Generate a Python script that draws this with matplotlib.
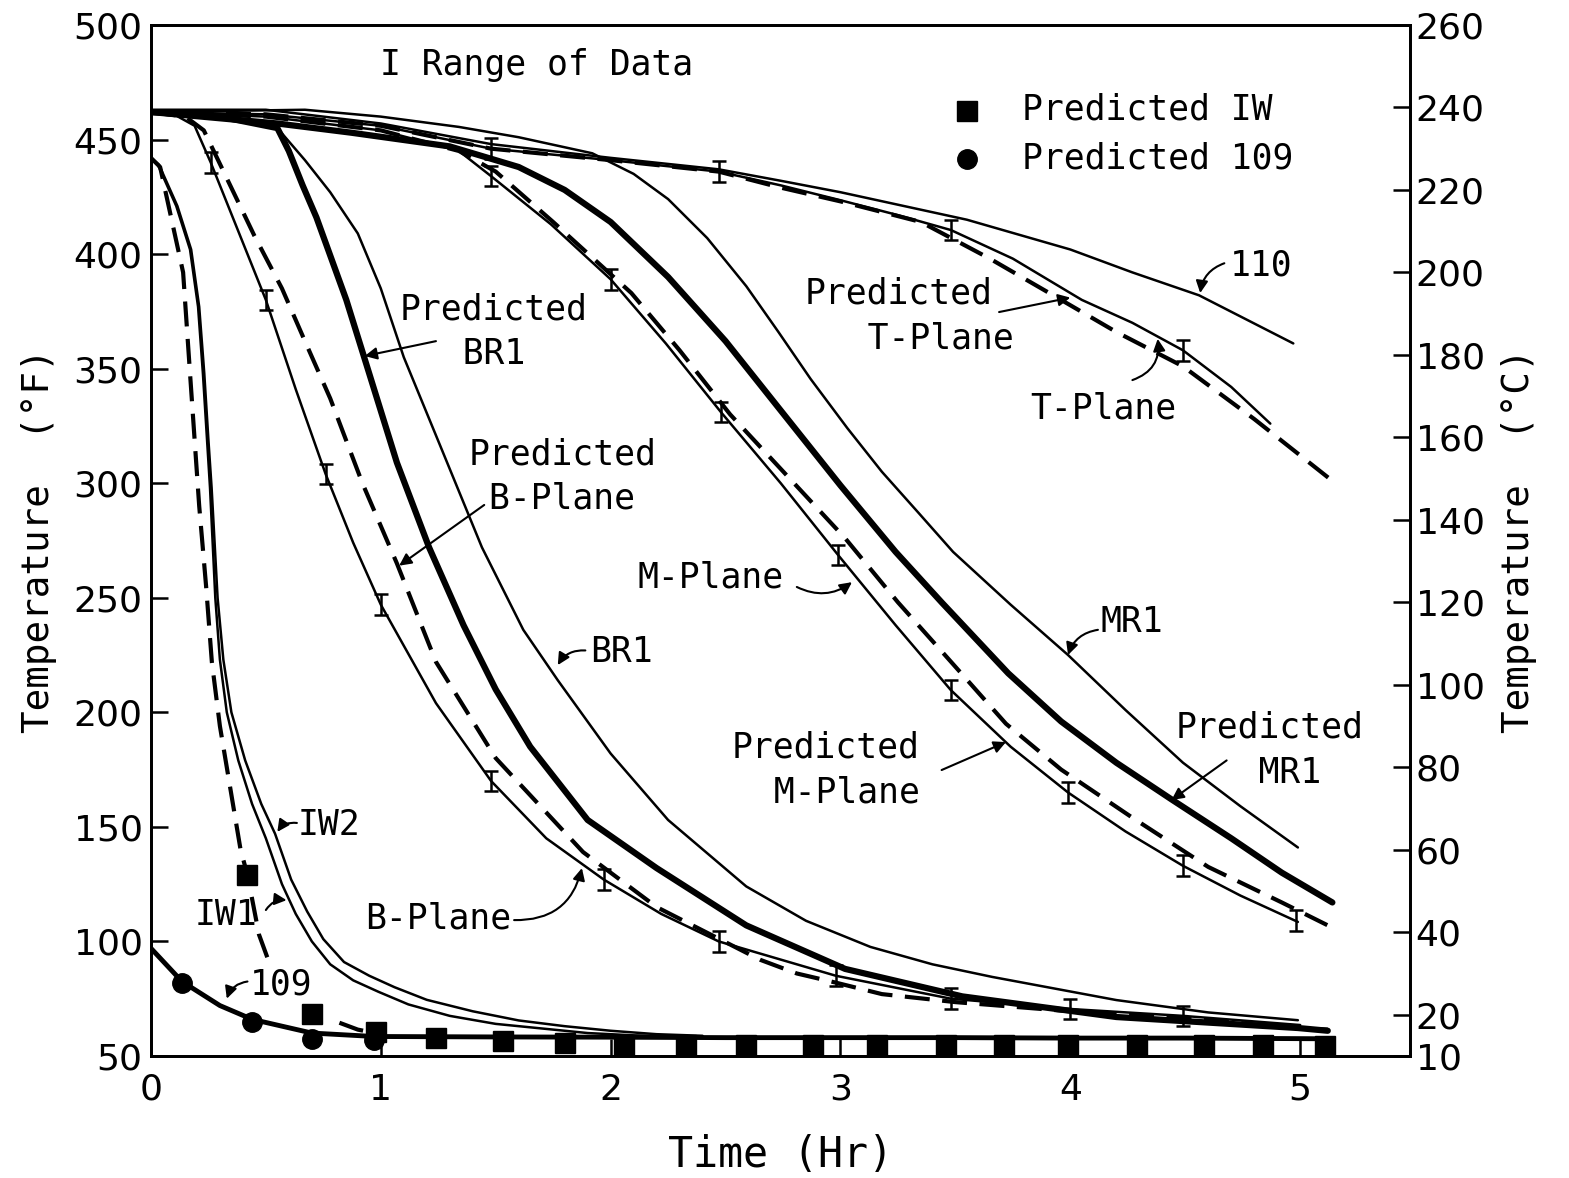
import numpy as np
import matplotlib
matplotlib.use("Agg")
import matplotlib.pyplot as plt

plt.rcParams['font.family'] = ['DejaVu Sans']
LETTER = 'DejaVu Sans Mono'

# ---------------- data (time in hr, temperature in deg F) ----------------
t_109 = [0, 0.135, 0.30, 0.44, 0.70, 0.97, 1.5, 2.0, 2.5, 3.0, 3.5, 4.0, 4.5, 5.12]
F_109 = [97, 82.5, 72, 66, 60, 58.5, 58.3, 58.2, 58, 58, 58, 57.8, 57.8, 57.5]

t_pred109 = [0.135, 0.44, 0.70, 0.97]
F_pred109 = [82, 65, 57.5, 57]

t_predIW_pts = [0.42, 0.70, 0.98, 1.24, 1.53, 1.80, 2.06, 2.33, 2.59, 2.88, 3.16,
                3.46, 3.71, 3.99, 4.29, 4.58, 4.84, 5.11]
F_predIW_pts = [129, 68.5, 60.5, 58, 56.5, 55.5, 55, 54.8, 54.8, 54.8, 54.8,
                54.8, 54.8, 54.8, 54.8, 54.8, 54.8, 54.5]

t_predIW = [0, 0.04, 0.14, 0.17, 0.21, 0.24, 0.265, 0.30, 0.36, 0.39, 0.42, 0.47, 0.51,
            np.nan, 0.82, 0.90, 1.0]
F_predIW = [442, 438, 392, 348, 290, 255, 222, 194, 158, 140, 129, 103, 92,
            np.nan, 64.5, 61.5, 59.5]

t_IW1 = [0, 0.03, 0.11, 0.17, 0.205, 0.226, 0.244, 0.257, 0.28, 0.30, 0.33, 0.38, 0.44,
         0.50, 0.57, 0.63, 0.70, 0.78, 0.88, 0.99, 1.12, 1.3, 1.5, 1.7, 1.9, 2.1, 2.3]
F_IW1 = [442, 439, 421, 402, 377, 348, 319, 298, 250, 223, 200, 179, 160,
         145, 125, 112, 100, 90, 83, 78, 72.5, 67.5, 64, 62, 60, 59, 58.5]

t_IW2 = [0, 0.035, 0.115, 0.175, 0.21, 0.232, 0.25, 0.264, 0.29, 0.315, 0.35, 0.41, 0.48,
         0.54, 0.61, 0.68, 0.75, 0.84, 0.95, 1.06, 1.2, 1.4, 1.6, 1.8, 2.0, 2.2, 2.4]
F_IW2 = [442, 439, 421, 402, 377, 348, 319, 298, 250, 223, 200, 179, 160,
         147, 127, 113, 101, 91, 85, 80, 74.5, 69.5, 65.5, 63, 61, 59.5, 58.8]

t_B = [0, 0.1, 0.19, 0.26, 0.38, 0.50, 0.63, 0.76, 0.88, 1.0, 1.24, 1.48, 1.72, 1.97,
       2.22, 2.47, 2.98, 3.48, 4.0, 4.49, 5.0]
F_B = [462, 461, 456, 440, 410, 380, 341, 304, 274, 247, 204, 170, 145, 127,
       112, 100, 85, 75, 70.5, 67.5, 63.5]
t_B_err = [0.26, 0.50, 0.76, 1.0, 1.48, 1.97, 2.47, 2.98, 3.48, 4.0, 4.49]
F_B_err = [440, 380, 304, 247, 170, 127, 100, 85, 75, 70.5, 67.5]

t_predB = [0, 0.15, 0.23, 0.34, 0.45, 0.57, 0.67, 0.78, 0.92, 1.07, 1.24, 1.5, 1.88, 2.2,
           2.65, 2.81, 2.98, 3.18, 3.5, 4.0, 4.5, 5.0, 5.12]
F_predB = [462, 460, 454, 431, 408, 385, 362, 337, 300, 265, 222, 180, 139, 115,
           92, 86, 82, 77, 73.5, 69.5, 66.5, 62, 61.5]

t_predBR1 = [0, 0.3, 0.55, 0.60, 0.66, 0.72, 0.85, 0.94, 1.07, 1.21, 1.36, 1.5, 1.65, 1.9,
             2.2, 2.59, 3.02, 3.53, 4.2, 4.99, 5.12]
F_predBR1 = [462, 460, 455, 445, 430, 416, 380, 351, 309, 272, 238, 210, 185, 153,
             132, 107, 88, 76, 67, 62.2, 61]

t_BR1 = [0, 0.3, 0.55, 0.67, 0.78, 0.9, 1.0, 1.1, 1.26, 1.44, 1.62, 1.77, 2.0, 2.25, 2.59,
         2.85, 3.13, 3.4, 3.66, 4.2, 4.6, 4.99]
F_BR1 = [462, 461, 455, 441, 427, 409, 385, 355, 316, 272, 236, 214, 182, 153, 124,
         109, 97.6, 90, 84.5, 74.4, 69, 65.6]

t_M = [0, 0.5, 1.0, 1.34, 1.48, 1.74, 2.0, 2.24, 2.48, 2.74, 2.99, 3.24, 3.48, 3.74, 3.99,
       4.24, 4.49, 4.74, 4.99]
F_M = [462, 460, 454, 445, 434, 413, 389, 361, 331, 300, 268.6, 238, 209.7, 185, 165,
       148, 133, 120, 108.5]
t_M_err = [1.48, 2.0, 2.48, 2.99, 3.48, 3.99, 4.49, 4.98]
F_M_err = [434, 389, 331, 268.6, 209.7, 165, 133, 109]

t_predM = [0, 0.5, 1.0, 1.34, 1.5, 1.75, 2.09, 2.3, 2.52, 2.77, 3.02, 3.25, 3.49, 3.72,
           3.96, 4.27, 4.6, 4.92, 5.14]
F_predM = [462, 460, 454, 445, 436, 414, 383, 358, 330, 303, 276, 248, 221, 195,
           175, 154, 132.5, 117, 106]

t_predMR1 = [0, 0.55, 0.87, 1.3, 1.6, 1.8, 2.0, 2.25, 2.5, 2.73, 3.0, 3.24, 3.44, 3.73,
             3.96, 4.2, 4.44, 4.7, 4.92, 5.14]
F_predMR1 = [462, 457, 453, 447, 438, 428, 414, 390, 362, 333, 299, 270, 248, 217,
             196, 178, 162, 145, 130, 117]

t_MR1 = [0, 0.67, 1.0, 1.34, 1.6, 1.92, 2.1, 2.25, 2.42, 2.59, 2.73, 2.87, 3.03, 3.18,
         3.34, 3.49, 3.74, 3.99, 4.24, 4.49, 4.74, 4.99]
F_MR1 = [462, 463, 460, 455.5, 451, 444, 435, 424, 407, 386, 366, 345.5, 324, 305,
         287, 270, 247, 225, 201, 178, 159, 141]

t_T = [0, 0.5, 1.0, 1.48, 2.0, 2.47, 2.74, 3.0, 3.25, 3.48, 3.75, 4.05, 4.27, 4.49, 4.7, 4.87]
F_T = [462, 461, 456, 446, 441, 436, 430, 423.5, 417, 410.5, 398, 380, 370, 358, 342, 326]
t_T_err = [1.48, 2.47, 3.48, 4.49]
F_T_err = [446, 436, 410.5, 358]

t_predT = [0, 0.5, 1.0, 1.48, 2.0, 2.47, 2.74, 3.0, 3.35, 3.65, 3.96, 4.2, 4.49, 4.8, 5.14]
F_predT = [462, 461, 456, 446, 441, 436, 429, 423, 414, 398, 380, 366, 351, 328, 301]

t_110 = [0, 0.5, 1.0, 1.48, 2.0, 2.47, 2.74, 3.0, 3.55, 4.0, 4.27, 4.56, 4.97]
F_110 = [463, 463, 457, 448, 442, 437, 432, 427, 415, 402, 392, 382, 361]

x_ticks = [0, 1, 2, 3, 4, 5]
yF_ticks = [50, 100, 150, 200, 250, 300, 350, 400, 450, 500]
yC_ticks = [10, 20, 40, 60, 80, 100, 120, 140, 160, 180, 200, 220, 240, 260]

# ---------------- figure ----------------
fig = plt.figure(figsize=(15.69, 11.78), dpi=100)
ax = fig.add_axes([0.0962, 0.1036, 0.8025, 0.8752])
ax.set_xlim(0, 5.478)
ax.set_ylim(50, 500)

K = 'black'
thin = dict(color=K, lw=1.8, solid_capstyle='round', solid_joinstyle='round')
thick = dict(color=K, lw=4.5, solid_capstyle='round', solid_joinstyle='round')
dash = dict(color=K, lw=3.0, linestyle=(0, (6, 3)))

ax.plot(t_109, F_109, **dict(thick, lw=3.5))
ax.plot(t_predIW, F_predIW, **dash)
ax.plot(t_IW1, F_IW1, **thin)
ax.plot(t_IW2, F_IW2, **thin)

ax.plot(t_B, F_B, **thin)
ax.plot(t_predB, F_predB, **dash)
ax.plot(t_predBR1, F_predBR1, **thick)
ax.plot(t_BR1, F_BR1, **thin)

ax.plot(t_M, F_M, **thin)
ax.plot(t_predM, F_predM, **dash)
ax.plot(t_predMR1, F_predMR1, **thick)
ax.plot(t_MR1, F_MR1, **thin)

ax.plot(t_110, F_110, **thin)
ax.plot(t_T, F_T, **thin)
ax.plot(t_predT, F_predT, **dash)

eb = dict(fmt='none', ecolor=K, elinewidth=1.8, capsize=5, capthick=1.8)
for tt, ff in [(t_B_err, F_B_err), (t_M_err, F_M_err), (t_T_err, F_T_err)]:
    ax.errorbar(tt, ff, yerr=4.5, **eb)

ax.plot(t_predIW_pts, F_predIW_pts, 's', color=K, ms=14)
ax.plot(t_pred109, F_pred109, 'o', color=K, ms=14)

fs = 25
def label(x, y, s):
    ax.text(x, y, s, fontsize=fs, family=LETTER, ha='left', va='center',
            multialignment='left', linespacing=1.4)

def arrow(x0, y0, x1, y1, rad=0.0):
    ax.annotate('', xy=(x1, y1), xytext=(x0, y0),
                arrowprops=dict(arrowstyle='-|>', color=K, lw=1.5,
                                mutation_scale=18, shrinkA=0, shrinkB=0,
                                connectionstyle=f'arc3,rad={rad}'))

# key
ax.plot([3.55], [462.5], 's', color=K, ms=14)
ax.plot([3.55], [441.5], 'o', color=K, ms=14)
label(3.79, 462.9, 'Predicted IW')
label(3.79, 441.9, 'Predicted 109')
label(0.997, 482.5, 'I Range of Data')

label(1.083, 366.2, 'Predicted\n   BR1')
arrow(1.24, 362, 0.93, 355.5)
label(1.38, 302.9, 'Predicted\n B-Plane')
arrow(1.45, 290.5, 1.08, 264)
label(2.846, 372.8, 'Predicted\n   T-Plane')
arrow(3.69, 374.7, 4.0, 381)
label(3.825, 332.8, 'T-Plane')
arrow(4.27, 345, 4.38, 363, rad=0.4)
label(4.695, 395.2, '110')
arrow(4.67, 396, 4.565, 383, rad=0.3)
label(2.115, 259, 'M-Plane')
arrow(2.81, 254.7, 3.05, 256.8, rad=0.3)
label(1.91, 226.3, 'BR1')
arrow(1.89, 227, 1.77, 220.6, rad=0.3)
label(4.13, 239.4, 'MR1')
arrow(4.12, 236, 3.99, 225, rad=0.3)
label(2.528, 174.8, 'Predicted\n  M-Plane')
arrow(3.44, 174.8, 3.72, 187)
label(4.456, 183.5, 'Predicted\n    MR1')
arrow(4.68, 179, 4.44, 161.7)
label(0.64, 150.8, 'IW2')
arrow(0.635, 151.7, 0.55, 147.8, rad=0.3)
label(0.19, 111.5, 'IW1')
arrow(0.50, 113.7, 0.59, 118, rad=-0.3)
label(0.93, 110.2, 'B-Plane')
arrow(1.58, 109.3, 1.875, 132, rad=0.4)
label(0.43, 81, '109')
arrow(0.42, 82.5, 0.33, 75, rad=0.3)

# axes styling
for s in ax.spines.values():
    s.set_linewidth(2.0)
ax.set_xticks(x_ticks)
ax.set_yticks(yF_ticks)
ax.tick_params(axis='both', direction='in', length=12, width=1.8, labelsize=26)
ax.tick_params(axis='x', pad=12)
ax.tick_params(axis='y', pad=6)
ax.set_xlabel('Time (Hr)', fontsize=30, family=LETTER, labelpad=20)
ax.set_ylabel('Temperature  (°F)', fontsize=27, family=LETTER, labelpad=12)

ax2 = ax.twinx()
ax2.set_ylim(10, 260)
ax2.set_yticks(yC_ticks)
ax2.tick_params(axis='y', direction='in', length=12, width=1.8, labelsize=26, pad=4)
ax2.set_ylabel('Temperature  (°C)', fontsize=27, family=LETTER, labelpad=12)
for s in ax2.spines.values():
    s.set_linewidth(2.0)

fig.savefig('out.png', dpi=100)
